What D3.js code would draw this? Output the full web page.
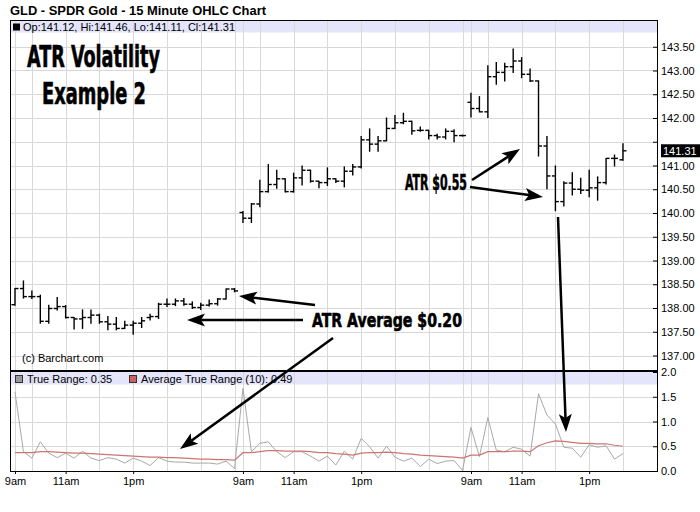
<!DOCTYPE html>
<html><head><meta charset="utf-8">
<script src="https://cdn.jsdelivr.net/npm/d3@7"></script>
<style>body{margin:0;background:#fff} svg{display:block}</style>
</head><body>
<svg id="c" width="700" height="512"></svg>
<script>
// ---- data (15-minute bars, 3 sessions) ----
const opens = [138.07,138.41,138.24,138.24,137.72,137.99,138.03,137.80,137.77,137.80,137.85,137.71,137.66,137.57,137.64,137.68,137.80,137.82,138.08,138.08,138.15,138.08,138.01,138.06,138.09,138.19,138.40,
  140.01,139.89,140.19,140.45,140.60,140.72,140.45,140.74,140.90,140.67,140.64,140.72,140.67,140.88,140.97,141.54,141.45,141.52,141.78,141.90,141.93,141.74,141.74,141.63,141.60,141.72,141.63,
  142.33,142.20,142.13,142.87,142.96,143.08,143.20,142.92,142.78,141.41,140.78,140.24,140.63,140.50,140.48,140.53,140.64,141.15,141.12];
const highs = [138.41,138.57,138.36,138.27,138.06,138.22,138.05,137.80,137.96,137.96,137.87,137.82,137.80,137.72,137.72,137.80,137.87,138.10,138.19,138.19,138.20,138.13,138.10,138.17,138.20,138.40,138.41,
  140.03,140.20,140.69,141.02,140.90,140.72,140.84,140.99,140.90,140.67,140.95,140.72,140.97,141.02,141.61,141.77,141.61,142.00,142.05,142.10,141.93,141.81,141.74,141.66,141.77,141.75,141.64,
  142.52,142.45,143.10,143.17,143.15,143.45,143.27,143.03,142.78,141.61,140.99,140.66,140.85,140.73,140.90,140.76,141.15,141.22,141.46];
const lows = [138.06,138.21,138.20,137.68,137.68,137.96,137.79,137.56,137.57,137.68,137.68,137.54,137.54,137.57,137.45,137.59,137.75,137.78,138.03,138.05,138.06,137.99,137.97,138.04,138.06,138.19,138.34,
  139.80,139.80,140.13,140.44,140.52,140.44,140.44,140.59,140.65,140.53,140.58,140.64,140.55,140.80,140.95,141.30,141.30,141.52,141.78,141.88,141.66,141.72,141.56,141.56,141.56,141.50,141.62,
  142.02,142.13,142.01,142.71,142.78,142.96,142.85,142.77,141.20,140.51,140.05,140.15,140.38,140.41,140.34,140.27,140.61,140.99,141.11];
const closes = [138.41,138.24,138.24,137.72,137.99,138.03,137.80,137.77,137.80,137.85,137.71,137.66,137.57,137.64,137.68,137.73,137.82,138.08,138.08,138.15,138.08,138.01,138.06,138.09,138.19,138.40,138.36,
  139.89,140.19,140.45,140.60,140.72,140.45,140.74,140.90,140.67,140.64,140.72,140.67,140.88,140.97,141.54,141.45,141.52,141.78,141.90,141.93,141.73,141.74,141.63,141.60,141.72,141.63,141.63,
  142.20,142.13,142.87,142.96,143.08,143.20,142.92,142.78,141.41,140.78,140.24,140.63,140.50,140.48,140.53,140.64,141.15,141.15,141.31];
const trueRange = [1.60,0.39,0.26,0.59,0.36,0.27,0.36,0.26,0.40,0.26,0.21,0.27,0.24,0.16,0.26,0.20,0.11,0.27,0.20,0.18,0.18,0.16,0.16,0.16,0.14,0.20,0.05,
  1.67,0.39,0.56,0.59,0.39,0.27,0.39,0.39,0.30,0.20,0.30,0.12,0.40,0.24,0.66,0.49,0.26,0.50,0.28,0.20,0.26,0.09,0.24,0.15,0.20,0.21,0.01,
  0.88,0.29,1.08,0.42,0.39,0.48,0.44,0.30,1.56,1.13,0.95,0.48,0.46,0.28,0.53,0.48,0.51,0.24,0.35];
const atr10 = [0.37,0.37,0.37,0.39,0.39,0.38,0.37,0.36,0.36,0.35,0.34,0.33,0.32,0.31,0.30,0.29,0.28,0.28,0.27,0.27,0.26,0.25,0.24,0.24,0.23,0.23,0.22,
  0.37,0.37,0.39,0.41,0.41,0.40,0.40,0.40,0.39,0.37,0.37,0.35,0.34,0.32,0.36,0.37,0.37,0.38,0.37,0.35,0.34,0.32,0.31,0.30,0.29,0.28,0.26,
  0.32,0.32,0.39,0.39,0.39,0.40,0.40,0.39,0.51,0.57,0.61,0.60,0.58,0.56,0.56,0.55,0.55,0.52,0.50];
const xTickBars = [0,6,14,27,33,41,54,60,68];
const xTickLabels = ["9am","11am","1pm","9am","11am","1pm","9am","11am","1pm"];
const dayStarts = [0,27,54];
const hourOffsets = [0,2,6,10,14,18,22,26];
const priceTicks = [137.00,137.50,138.00,138.50,139.00,139.50,140.00,140.50,141.00,141.50,142.00,142.50,143.00,143.50];
const hiddenPriceLabels = [141.50];   // covered by the last-price tag
const trTicks = [0.0,0.5,1.0,1.5,2.0];
const lastPrice = 141.31;

// ---- layout ----
const L = 10, R = 658, T = 20, B = 471;
const svg = d3.select("#c");
const font = "Liberation Sans, Arial, sans-serif";
const x = d3.scaleLinear().domain([-0.59, 76.15]).range([L, R]);
const yP = d3.scaleLinear().domain([136.695, 144.063]).range([370, T]);
const yT = d3.scaleLinear().domain([0, 2]).range([B, 372]);

svg.append("rect").attr("width",700).attr("height",512).attr("fill","#fff");

// title
svg.append("text").attr("x",10).attr("y",15).attr("font-family",font).attr("font-weight","bold")
  .attr("font-size",12.5).attr("fill","#000").attr("textLength",256).attr("lengthAdjust","spacingAndGlyphs")
  .text("GLD - SPDR Gold - 15 Minute OHLC Chart");

// header strips
svg.append("rect").attr("x",L).attr("y",T).attr("width",R-L).attr("height",12.5).attr("fill","#e4e4fa");
svg.append("rect").attr("x",L).attr("y",372).attr("width",R-L).attr("height",12.5).attr("fill","#e4e4fa");

// grid
const gridBars = [];
dayStarts.forEach(d => hourOffsets.forEach(h => { if (d + h <= 75) gridBars.push(d + h); }));
const g = svg.append("g").attr("stroke","#d8d8d8").attr("stroke-width",1).attr("shape-rendering","crispEdges");
gridBars.forEach(b => {
  g.append("line").attr("x1",Math.round(x(b))+0.5).attr("x2",Math.round(x(b))+0.5).attr("y1",T).attr("y2",B);
});
priceTicks.forEach(p => {
  g.append("line").attr("x1",L).attr("x2",R).attr("y1",Math.round(yP(p))+0.5).attr("y2",Math.round(yP(p))+0.5);
});
trTicks.slice(1,4).forEach(v => {
  g.append("line").attr("x1",L).attr("x2",R).attr("y1",Math.round(yT(v))+0.5).attr("y2",Math.round(yT(v))+0.5);
});

// header texts
svg.append("rect").attr("x",13).attr("y",23.5).attr("width",7).attr("height",7).attr("fill","#000");
svg.append("text").attr("x",23).attr("y",31).attr("font-family",font).attr("font-size",11).attr("fill","#000")
  .text("Op:" + opens[72].toFixed(2) + ", Hi:" + highs[72].toFixed(2) + ", Lo:" + lows[72].toFixed(2) + ", Cl:" + closes[72].toFixed(2));
svg.append("rect").attr("x",15.5).attr("y",375.5).attr("width",7).attr("height",7).attr("fill","#999").attr("stroke","#333");
svg.append("text").attr("x",27).attr("y",383).attr("font-family",font).attr("font-size",11).attr("fill","#000")
  .text("True Range: " + trueRange[72].toFixed(2));
svg.append("rect").attr("x",129.5).attr("y",375.5).attr("width",7).attr("height",7).attr("fill","#d06060").attr("stroke","#333");
svg.append("text").attr("x",141).attr("y",383).attr("font-family",font).attr("font-size",11).attr("fill","#000")
  .text("Average True Range (10): 0.49");

// OHLC bars
const bars = svg.append("g").attr("stroke","#000").attr("stroke-width",1.4).attr("fill","none");
opens.forEach((o,i) => {
  const cx = x(i);
  bars.append("line").attr("x1",cx).attr("x2",cx).attr("y1",yP(highs[i])-0.5).attr("y2",yP(lows[i])+0.5);
  bars.append("line").attr("x1",cx-3.5).attr("x2",cx).attr("y1",yP(o)).attr("y2",yP(o));
  bars.append("line").attr("x1",cx).attr("x2",cx+3.5).attr("y1",yP(closes[i])).attr("y2",yP(closes[i]));
});

// lower panel lines
const idx = d3.range(trueRange.length);
svg.append("path").attr("d", d3.line().x(i => x(i)).y(i => yT(trueRange[i]))(idx))
  .attr("fill","none").attr("stroke","#a8a8a8").attr("stroke-width",1);
svg.append("path").attr("d", d3.line().x(i => x(i)).y(i => yT(atr10[i]))(idx))
  .attr("fill","none").attr("stroke","#cc7474").attr("stroke-width",1.2);

// copyright
svg.append("text").attr("x",22).attr("y",362).attr("font-family",font).attr("font-size",11).attr("fill","#000")
  .text("(c) Barchart.com");

// frame
const fr = svg.append("g").attr("stroke","#000").attr("fill","none").attr("shape-rendering","crispEdges");
fr.append("rect").attr("x",L+0.5).attr("y",T+0.5).attr("width",R-L-1).attr("height",B-T);
fr.append("line").attr("x1",L).attr("x2",R).attr("y1",371).attr("y2",371).attr("stroke-width",2);

// right axes
const ax1 = svg.append("g").attr("transform",`translate(${R},0)`)
  .call(d3.axisRight(yP).tickValues(priceTicks)
    .tickFormat(d => hiddenPriceLabels.includes(d) ? "" : d3.format(".2f")(d)).tickSize(-5).tickPadding(3));
const ax2 = svg.append("g").attr("transform",`translate(${R},0)`)
  .call(d3.axisRight(yT).tickValues(trTicks).tickFormat(d3.format(".1f")).tickSize(-5).tickPadding(3));
const ax3 = svg.append("g").attr("transform",`translate(0,${B})`)
  .call(d3.axisBottom(x).tickValues(xTickBars).tickFormat((d,i) => xTickLabels[i]).tickSize(3).tickPadding(3));
[ax1,ax2,ax3].forEach(a => {
  a.select(".domain").remove();
  a.selectAll("text").attr("font-family",font).attr("font-size",11).attr("fill","#000");
  a.selectAll("line").attr("stroke","#000");
});

// last price tag
svg.append("rect").attr("x",661).attr("y",yP(lastPrice)-6.5).attr("width",39).attr("height",13).attr("fill","#000");
svg.append("text").attr("x",663).attr("y",yP(lastPrice)+4).attr("font-family",font).attr("font-size",11)
  .attr("fill","#fff").text(lastPrice.toFixed(2));

// annotations
const afont = "Liberation Sans Narrow, DejaVu Sans Condensed, Liberation Sans, Arial, sans-serif";
function label(t, xx, yy, fs, len) {
  svg.append("text").attr("x",xx).attr("y",yy).attr("font-family",afont).attr("font-weight","bold")
    .attr("font-size",fs).attr("fill","#000").attr("stroke","#000").attr("stroke-width",0.6)
    .attr("textLength",len).attr("lengthAdjust","spacingAndGlyphs").text(t);
}
label("ATR Volatility", 27, 67, 31, 133);
label("Example 2", 42, 104, 31, 104);
label("ATR $0.55", 405, 190, 21, 62);
label("ATR Average $0.20", 312, 327, 20, 150);

function arrow(x1,y1,x2,y2) {
  const dx = x2-x1, dy = y2-y1, len = Math.hypot(dx,dy), ux = dx/len, uy = dy/len;
  const hl = 18, hw = 6.5;
  const bx = x2-ux*hl, by = y2-uy*hl;
  svg.append("line").attr("x1",x1).attr("y1",y1).attr("x2",bx+ux*4).attr("y2",by+uy*4)
    .attr("stroke","#000").attr("stroke-width",2.5);
  svg.append("path").attr("d",`M${x2},${y2}L${bx-uy*hw},${by+ux*hw}L${bx+ux*4},${by+uy*4}L${bx+uy*hw},${by-ux*hw}Z`)
    .attr("fill","#000");
}
arrow(472,180,520,149);
arrow(470,187,543,197);
arrow(558,217,566,432);
arrow(315,305,239,296);
arrow(303,320,187,320);
arrow(333,338,180,449);
</script>
</body></html>
